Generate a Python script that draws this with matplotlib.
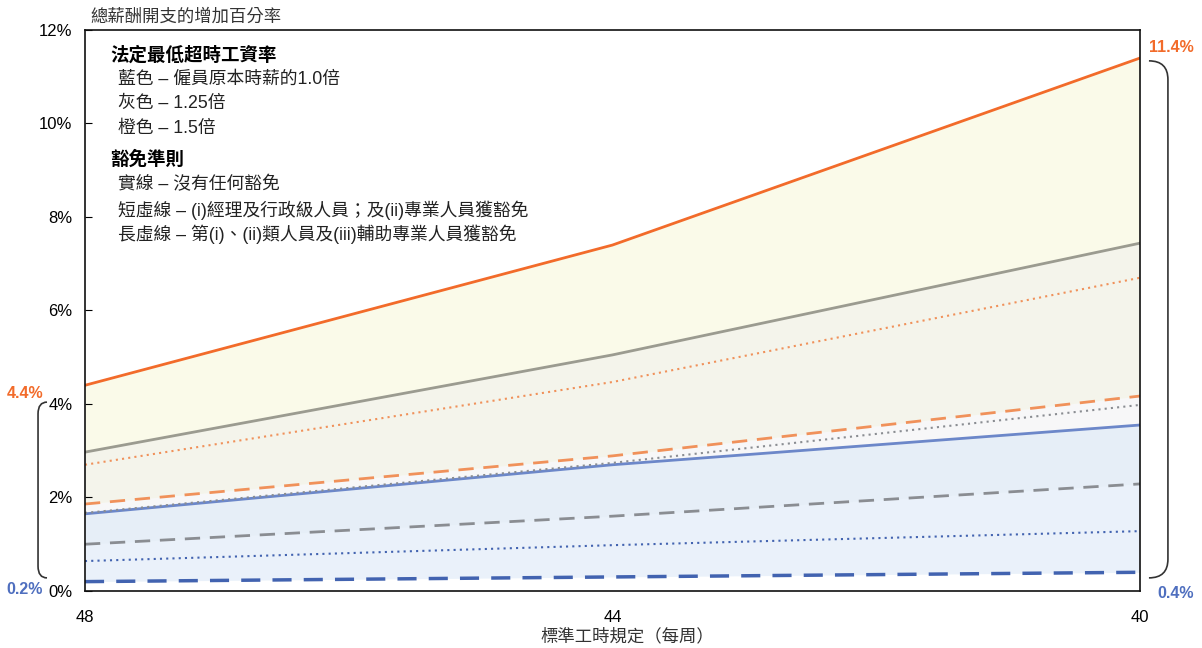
import numpy as np
import matplotlib.pyplot as plt
from matplotlib.path import Path
from matplotlib.patches import PathPatch
import matplotlib.transforms as mtransforms

plt.rcParams['font.family'] = ['Liberation Sans', 'Noto Sans CJK TC', 'DejaVu Sans']

# standard working hours per week
hours = [48, 44, 40]
hour_labels = ['48', '44', '40']

# % increase in total wage bill
# orange = 1.5x, gray = 1.25x, blue = 1.0x
# solid = no exemption, dotted = (i)+(ii) exempt, long dash = (i)+(ii)+(iii) exempt
orange_solid = [4.4, 7.4, 11.4]
orange_dot = [2.7, 4.47, 6.7]
orange_dash = [1.86, 2.89, 4.17]
gray_solid = [2.97, 5.05, 7.44]
gray_dot = [1.67, 2.74, 3.98]
gray_dash = [1.0, 1.6, 2.29]
blue_solid = [1.65, 2.7, 3.55]
blue_dot = [0.64, 0.98, 1.28]
blue_dash = [0.2, 0.3, 0.4]

y_ticks = [0, 2, 4, 6, 8, 10, 12]

ORANGE = '#F26B2A'
ORANGE_LT = '#F0915A'
GRAY = '#9B9B90'
GRAY_DK = '#8A8D92'
BLUE = '#6C87C9'
BLUE_DK = '#4263B0'
BLUE_TXT = '#4F6FBF'

fig = plt.figure(figsize=(12.02, 6.48), dpi=100)
ax = fig.add_axes([0.0707, 0.088, 0.8777, 0.8657])

x = np.array(hours)

# shaded ranges for each multiplier
ax.fill_between(x, orange_dash, orange_solid, color='#F7F7D5', alpha=0.5, lw=0)
ax.fill_between(x, gray_dash, gray_solid, color='#EDEDEF', alpha=0.4, lw=0)
ax.fill_between(x, blue_dash, blue_solid, color='#DCE9F7', alpha=0.6, lw=0)

dash_long = (5.5, 3.5)
dot_short = (1, 2)

ax.plot(x, orange_solid, color=ORANGE, lw=2)
ax.plot(x, gray_solid, color=GRAY, lw=2)
ax.plot(x, blue_solid, color=BLUE, lw=2)
ax.plot(x, orange_dot, color=ORANGE_LT, lw=1.5, dashes=dot_short)
ax.plot(x, gray_dot, color=GRAY_DK, lw=1.5, dashes=dot_short)
ax.plot(x, blue_dot, color=BLUE_DK, lw=1.5, dashes=dot_short)
ax.plot(x, orange_dash, color=ORANGE_LT, lw=2, dashes=dash_long)
ax.plot(x, gray_dash, color=GRAY_DK, lw=2, dashes=dash_long)
ax.plot(x, blue_dash, color=BLUE_DK, lw=2.5, dashes=dash_long)

ax.set_xlim(48, 40)
ax.set_ylim(0, 12)
ax.set_xticks(hours)
ax.set_xticklabels(hour_labels)
ax.set_yticks(y_ticks)
ax.set_yticklabels([f'{t}%' for t in y_ticks])
ax.tick_params(axis='y', direction='in', length=5, labelsize=12, pad=9)
ax.tick_params(axis='x', length=0, labelsize=12, pad=14)
for s in ax.spines.values():
    s.set_color('#111111')
    s.set_linewidth(1.2)

fig.text(0.5217, 0.0185, '標準工時規定（每周）', fontsize=12.5, color='#333333',
         va='center', ha='center')
fig.text(0.075, 0.974, '總薪酬開支的增加百分率', fontsize=12.5, color='#333333',
         va='center', ha='left')

# legend text block
legend_lines = [
    ('法定最低超時工資率', True, 0.915),
    ('藍色 – 僱員原本時薪的1.0倍', False, 0.878),
    ('灰色 – 1.25倍', False, 0.841),
    ('橙色 – 1.5倍', False, 0.802),
    ('豁免準則', True, 0.753),
    ('實線 – 沒有任何豁免', False, 0.715),
    ('短虛線 – (i)經理及行政級人員；及(ii)專業人員獲豁免', False, 0.676),
    ('長虛線 – 第(i)、(ii)類人員及(iii)輔助專業人員獲豁免', False, 0.639),
]
for txt, bold, yf in legend_lines:
    fig.text(0.0915 if bold else 0.098, yf, txt, fontsize=13.3 if bold else 12.8,
             fontweight='bold' if bold else 'normal',
             color='#000000' if bold else '#222222', va='center', ha='left')


def bracket(ax, x_tip, x_back, y0, y1, r):
    # rounded square bracket outside the axes, x in axes fraction, y in data
    trans = mtransforms.blended_transform_factory(ax.transAxes, ax.transData)
    verts = [(x_tip, y1), (x_back, y1), (x_back, y1 - r),
             (x_back, y0 + r), (x_back, y0), (x_tip, y0)]
    codes = [Path.MOVETO, Path.CURVE3, Path.CURVE3,
             Path.LINETO, Path.CURVE3, Path.CURVE3]
    patch = PathPatch(Path(verts, codes), fill=False, lw=1.2,
                      edgecolor='#333333', transform=trans, clip_on=False)
    ax.add_patch(patch)


bracket(ax, -0.036, -0.0445, 0.28, 4.04, 0.25)
bracket(ax, 1.0085, 1.0265, 0.28, 11.34, 0.4)

# end value labels
end_labels = [
    (0.0, orange_solid[0], ORANGE, (-60, -8)),
    (0.0, blue_dash[0], BLUE_TXT, (-60, -8)),
    (1.0, orange_solid[-1], ORANGE, (31, 11)),
    (1.0, blue_dash[-1], BLUE_TXT, (36, -21)),
]
for xa, val, col, off in end_labels:
    ax.annotate(f'{val:.1f}%', xy=(xa, val), xycoords=('axes fraction', 'data'),
                xytext=off, textcoords='offset pixels', color=col,
                fontsize=11.5, fontweight='bold', ha='center', va='center')

fig.savefig('out.png', dpi=100)
